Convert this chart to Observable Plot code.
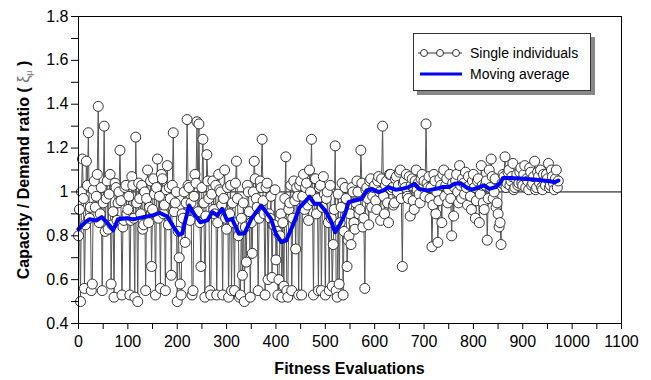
<!DOCTYPE html>
<html><head><meta charset="utf-8">
<script src="https://cdn.jsdelivr.net/npm/d3@7"></script>
<script src="https://cdn.jsdelivr.net/npm/@observablehq/plot@0.6"></script>
<style>
body{margin:0;background:#fff;font-family:"Liberation Sans",Arial,sans-serif;}
#wrap{position:relative;width:651px;height:380px;}
#legend{position:absolute;left:413px;top:33px;width:176px;height:56px;background:#fff;border:1px solid #333;box-shadow:4px 4px 0 #888;font-size:14px;color:#000;}
#legend .row{position:absolute;left:4px;height:18px;display:flex;align-items:center;}
#legend .row span{margin-left:6px;white-space:nowrap;}
</style></head><body><div id="wrap"></div>
<script>
// evaluation step between plotted individuals
const step = 4;
// single individuals (A: evaluations 0,4,8,...; B: evaluations 2,6,10,...)
const singleA000 = [0.80,0.50,1.15,0.56,1.14,1.27,0.93,0.58,1.05,0.98,1.39,0.90,0.55,1.30,0.97,0.83,1.08,0.85,0.52,1.02,0.95,1.19,0.53,0.87,1.03];
const singleA100 = [0.92,0.53,1.07,0.88,1.25,0.50,0.97,1.03,0.85,0.55,1.10,0.93,0.66,1.06,0.53,1.15,0.98,1.08,0.90,0.55,1.12,1.02,0.62,1.27,0.95];
const singleA200 = [0.50,0.70,0.53,0.88,0.77,1.33,1.02,0.95,0.55,1.08,1.32,1.31,0.66,1.24,0.52,1.17,0.97,0.53,1.05,0.90,0.53,1.08,1.00,0.53,1.10];
const singleA300 = [0.83,0.52,1.03,0.95,0.55,1.14,0.80,0.53,0.62,0.50,0.68,1.00,0.52,0.72,1.14,0.97,0.55,1.05,1.24,0.90,1.02,0.60,0.88,0.61,0.85];
const singleA400 = [0.69,0.53,0.80,0.52,0.57,1.16,0.52,0.95,0.55,1.05,0.74,0.98,1.03,0.53,1.08,1.02,0.94,1.10,1.24,0.53,1.06,0.97,1.02,0.55,1.07];
const singleA500 = [0.53,1.00,0.55,0.88,0.76,1.21,0.52,0.58,0.93,0.53,1.02,0.66,0.80,0.76,1.00,0.83,1.05,0.90,1.19,0.84,0.56,1.02,0.85,1.06,0.98];
const singleA600 = [1.03,0.92,1.07,0.87,1.30,0.90,1.05,0.86,1.08,1.02,0.95,1.07,1.03,1.10,0.66,1.05,1.08,0.97,0.89,1.06,0.92,1.10,1.04,0.95,1.08];
const singleA700 = [1.05,1.31,1.02,0.97,0.75,1.08,0.90,0.77,1.06,0.86,1.10,1.03,0.95,1.08,0.80,0.89,1.05,1.00,1.12,0.97,1.04,1.09,0.94,1.03,0.92];
const singleA800 = [1.08,0.88,1.05,0.86,1.12,0.95,1.03,0.78,1.10,1.15,0.97,1.06,0.95,0.84,0.76,1.08,1.16,1.04,1.10,1.05,1.13,1.02,1.08,1.04,1.11];
const singleA900 = [1.03,1.12,1.06,1.01,1.09,1.04,1.14,1.02,1.07,1.10,1.01,1.05,1.08,1.13,1.03,1.07,1.01,1.10,1.05];
const singleB000 = [0.92,1.00,0.97,0.85,1.03,0.88,0.55,1.01,0.93,1.08,0.86,1.02,0.95,0.82,1.05,0.99,0.58,0.91,1.04,0.87,1.00,0.96,0.84,1.02,0.90];
const singleB100 = [0.98,0.87,1.03,0.52,0.95,1.04,0.90,0.83,1.00,0.97,0.86,1.05,0.92,0.99,1.02,0.88,0.56,1.06,0.94,1.01,0.85,0.97,1.03,0.91,1.00];
const singleB200 = [0.82,0.58,0.90,1.00,0.95,1.03,0.87,0.53,0.98,1.04,0.91,0.86,1.02,0.95,0.89,1.05,0.55,0.99,0.92,1.03,0.86,1.01,0.94,0.97,0.88];
const singleB300 = [1.02,0.90,0.55,0.86,1.04,0.97,0.52,0.88,0.95,0.84,1.03,0.91,0.86,1.00,1.06,0.93,0.88,1.02,0.96,0.53,1.04,0.90,0.98,0.85,1.01];
const singleB400 = [0.82,0.60,0.90,0.86,0.97,0.55,0.92,1.03,0.88,0.96,1.02,0.53,1.05,0.98,0.92,1.04,0.87,1.00,0.96,1.06,0.90,0.55,1.03,0.93,0.99];
const singleB500 = [0.97,0.86,1.03,0.57,0.92,0.55,0.99,0.86,1.04,0.82,0.97,0.78,0.90,1.02,0.86,0.95,1.00,0.92,1.04,0.88,1.01,0.97,1.05,0.93,1.02];
const singleB600 = [0.96,1.05,1.00,1.06,0.98,1.03,0.95,1.08,1.01,0.94,1.06,1.00,1.09,0.97,1.04,1.02,0.98,1.07,1.03,0.96,1.05,1.01,0.99,1.06,1.02];
const singleB700 = [0.98,1.04,1.07,1.02,0.94,1.05,1.00,0.96,1.03,1.08,0.98,1.06,1.01,0.97,1.04,1.02,1.08,0.95,1.03,1.06,0.99,1.02,1.07,0.98,1.05];
const singleB800 = [1.02,0.96,1.06,0.99,1.03,0.92,1.05,0.97,1.02,1.07,1.00,0.93,0.90,0.86,1.04,1.07,1.02,1.09,1.03,1.07,1.01,1.06,1.03,1.09,1.04];
const singleB900 = [1.08,1.02,1.05,1.11,1.03,1.07,1.01,1.09,1.04,1.02,1.08,1.03,1.06,1.02,1.10,1.04,1.06,1.02];
// moving average
const maEval  = [0,4,14,22,36,47,57,63,70,80,97,111,131,151,164,180,193,203,210,224,234,247,261,271,281,291,301,311,325,336,350,360,370,380,390,400,411,421,434,448,458,468,478,488,502,511,520,530,540,547,560,574,584,594,608,618,628,642,655,669,681,690,707,724,737,751,761,774,785,798,812,822,832,845,853,860,874,901,928,955,965,972];
const maValue = [0.83,0.84,0.862,0.875,0.87,0.885,0.862,0.847,0.825,0.875,0.88,0.875,0.885,0.893,0.905,0.888,0.839,0.806,0.81,0.938,0.90,0.862,0.87,0.908,0.893,0.923,0.87,0.877,0.809,0.81,0.877,0.908,0.938,0.908,0.877,0.809,0.771,0.779,0.847,0.93,0.953,0.979,0.946,0.946,0.908,0.87,0.816,0.854,0.90,0.953,0.961,0.969,1.007,1.014,0.999,1.007,1.022,1.01,1.014,1.022,1.037,1.014,1.007,1.014,1.022,1.022,1.037,1.04,1.022,1.01,1.022,1.03,1.014,1.022,1.037,1.064,1.064,1.06,1.055,1.049,1.044,1.052];
// axes
const xTicks = [0,100,200,300,400,500,600,700,800,900,1000,1100];
const xMinor = [50,150,250,350,450,550,650,750,850,950,1050];
const yTicks = [0.4,0.6,0.8,1.0,1.2,1.4,1.6,1.8];
const yMinor = [0.5,0.7,0.9,1.1,1.3,1.5,1.7];
const xLabel = "Fitness Evaluations";
const yLabel = ["Capacity / Demand ratio ( ", "ξ", "μ", " )"];
const legendLabels = ["Single individuals", "Moving average"];

const singleAValues = [].concat(singleA000,singleA100,singleA200,singleA300,singleA400,singleA500,singleA600,singleA700,singleA800,singleA900);
const singleBValues = [].concat(singleB000,singleB100,singleB200,singleB300,singleB400,singleB500,singleB600,singleB700,singleB800,singleB900);
const singles = singleAValues.map((v,i)=>({x:i*step,y:v}))
  .concat(singleBValues.map((v,i)=>({x:i*step+step/2,y:v})))
  .sort((a,b)=>a.x-b.x);
const ma = maEval.map((e,i)=>({x:e,y:maValue[i]}));

const font = "Liberation Sans, Arial, sans-serif";
const plot = Plot.plot({
  width:651, height:380, marginLeft:78, marginRight:30, marginTop:16, marginBottom:57,
  style:{fontFamily:font, fontSize:"16px", color:"#000", background:"#fff", overflow:"visible"},
  x:{domain:[0,1100]}, y:{domain:[0.4,1.8]},
  marks:[
    Plot.ruleY([1],{stroke:"#000",strokeWidth:1}),
    Plot.line(singles,{x:"x",y:"y",stroke:"#555",strokeWidth:1}),
    Plot.dot(singles,{x:"x",y:"y",r:5,fill:"#fff",stroke:"#333",strokeWidth:1}),
    Plot.line(ma,{x:"x",y:"y",stroke:"#0000ff",strokeWidth:4,strokeLinejoin:"round"}),
    Plot.frame({stroke:"#000"}),
    Plot.axisX(xTicks,{tickSize:6,tickPadding:6,label:null,fontSize:16,strokeOpacity:1,tickFormat:d=>String(d)}),
    Plot.axisX(xMinor,{tickSize:6,text:null,label:null,strokeOpacity:1}),
    Plot.axisY(yTicks,{tickSize:7,tickPadding:3,label:null,fontSize:16,strokeOpacity:1,tickFormat:d=>String(+d.toFixed(1))}),
    Plot.axisY(yMinor,{tickSize:7,text:null,label:null,strokeOpacity:1})
  ]
});
document.getElementById("wrap").appendChild(plot);

const svg = d3.select(plot);
svg.append("text").attr("x",349.5).attr("y",374).attr("text-anchor","middle")
  .attr("font-family",font).attr("font-size",16).attr("font-weight","bold").attr("fill","#000").text(xLabel);
const yl = svg.append("text").attr("transform","translate(29,170) rotate(-90)").attr("text-anchor","middle")
  .attr("font-family",font).attr("font-size",16).attr("font-weight","bold").attr("fill","#000");
yl.append("tspan").text(yLabel[0]);
yl.append("tspan").attr("font-weight","normal").attr("fill","#777").text(yLabel[1]);
yl.append("tspan").attr("font-weight","normal").attr("fill","#777").attr("font-size",9).attr("dy",3).text(yLabel[2]);
yl.append("tspan").attr("dy",-3).text(yLabel[3]);

// legend
const lg = document.createElement("div");
lg.id = "legend";
lg.innerHTML =
 `<div class="row" style="top:10px"><svg width="46" height="10"><line x1="0" y1="5" x2="44" y2="5" stroke="#333"/>`+
 [6,22,38].map(cx=>`<circle cx="${cx}" cy="5" r="3.5" fill="#fff" stroke="#333"/>`).join("")+
 `</svg><span>${legendLabels[0]}</span></div>`+
 `<div class="row" style="top:31px"><svg width="46" height="10"><line x1="2" y1="5" x2="44" y2="5" stroke="#0000ff" stroke-width="3"/></svg><span>${legendLabels[1]}</span></div>`;
document.getElementById("wrap").appendChild(lg);
</script></body></html>
